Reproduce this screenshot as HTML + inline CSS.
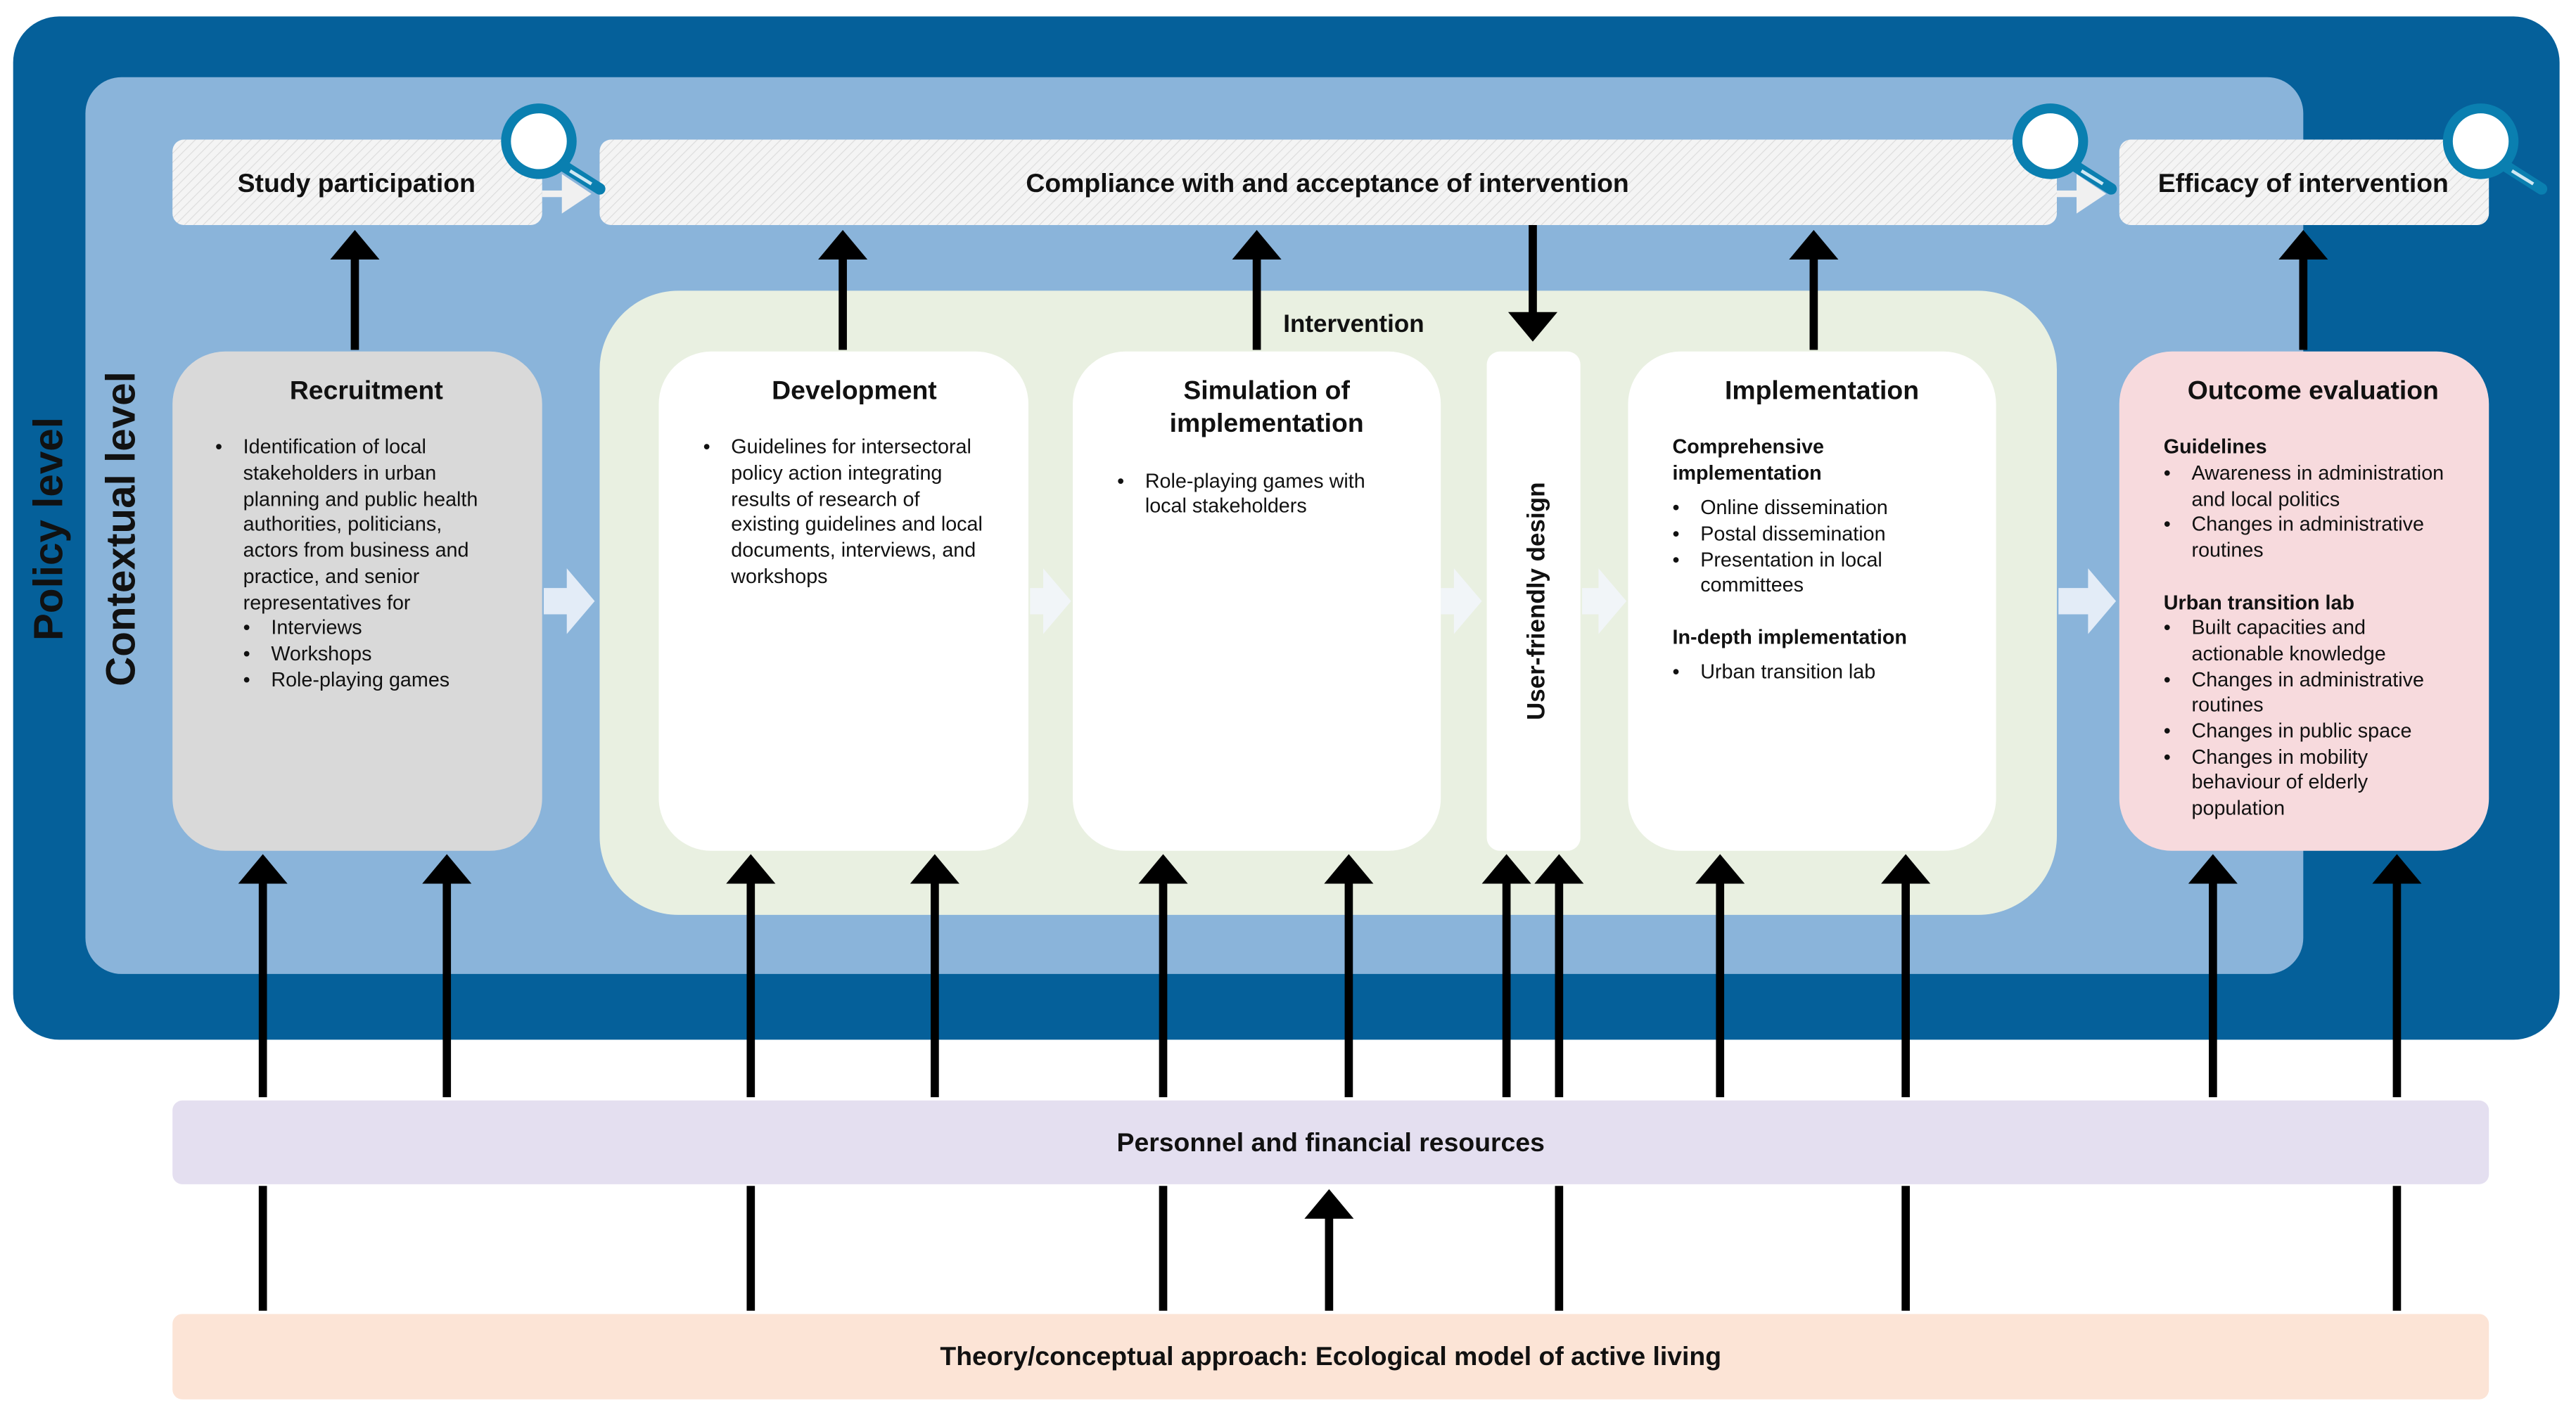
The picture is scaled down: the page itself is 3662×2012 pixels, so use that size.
<!DOCTYPE html>
<html><head><meta charset="utf-8"><style>
html,body{margin:0;padding:0;background:#fff;}
svg{display:block;}
text{font-family:"Liberation Sans",Arial,sans-serif;fill:#111;}
.t{font-weight:bold;font-size:16px;text-anchor:middle;}
.b{font-size:12.3px;}
.h{font-size:12.3px;font-weight:bold;}
</style></head><body>
<svg width="3662" height="2012" viewBox="0 0 1568 861.5" xmlns="http://www.w3.org/2000/svg">
<defs>
<pattern id="hat" width="4" height="4" patternUnits="userSpaceOnUse" patternTransform="rotate(45)">
<rect width="4" height="4" fill="#f4f4f4"/><line x1="0" y1="0" x2="0" y2="4" stroke="#dcdcdc" stroke-width="1"/>
</pattern>
<marker id="ah" viewBox="0 0 10 10" refX="9" refY="5" markerWidth="5" markerHeight="5" orient="auto-start-reverse" markerUnits="strokeWidth">
<path d="M0,0 L10,5 L0,10z" fill="#000"/></marker>
</defs>
<rect width="1568" height="861.5" fill="#fff"/>
<rect x="8" y="10" width="1550" height="623" rx="28" fill="#05609a"/>
<rect x="52" y="47" width="1350" height="546" rx="22" fill="#8ab4da"/>
<text class="t" transform="translate(38,322) rotate(-90)" style="font-size:25px">Policy level</text>
<text class="t" transform="translate(82,322) rotate(-90)" style="font-size:25px">Contextual level</text>

<!-- top boxes -->
<rect x="105" y="85" width="225" height="52" rx="7" fill="url(#hat)"/>
<rect x="365" y="85" width="887" height="52" rx="7" fill="url(#hat)"/>
<rect x="1290" y="85" width="225" height="52" rx="7" fill="url(#hat)"/>
<text class="t" x="217" y="117">Study participation</text>
<text class="t" x="808" y="117">Compliance with and acceptance of intervention</text>
<text class="t" x="1402" y="117">Efficacy of intervention</text>
<path d="M330,116 h12 v-10 l18,12 l-18,12 v-10 h-12z" fill="#f0f0f0"/>
<path d="M1252,116 h12 v-10 l18,12 l-18,12 v-10 h-12z" fill="#f0f0f0"/>
<!-- magnifiers -->
<g stroke="#0a7fb0" fill="#fff">
<circle cx="328" cy="86" r="20" stroke-width="6"/><line x1="343" y1="101" x2="365" y2="115" stroke-width="7" stroke-linecap="round"/>
<circle cx="1248" cy="86" r="20" stroke-width="6"/><line x1="1263" y1="101" x2="1285" y2="115" stroke-width="7" stroke-linecap="round"/>
<circle cx="1510" cy="86" r="20" stroke-width="6"/><line x1="1525" y1="101" x2="1547" y2="115" stroke-width="7" stroke-linecap="round"/>
</g>
<g stroke="#cfe8f3" stroke-width="2"><line x1="347" y1="104" x2="360" y2="112"/><line x1="1267" y1="104" x2="1280" y2="112"/><line x1="1529" y1="104" x2="1542" y2="112"/></g>

<!-- intervention -->
<rect x="365" y="177" width="887" height="380" rx="48" fill="#e9f0e1"/>
<text class="t" x="824" y="202" style="font-size:15px">Intervention</text>

<!-- light arrows -->
<g fill="#f2f6fb" opacity="0.85">
<path d="M331,358 h14 v-12 l17,20 l-17,20 v-12 h-14z"/>
<path d="M627,358 h8 v-12 l17,20 l-17,20 v-12 h-8z"/>
<path d="M877,358 h8 v-12 l17,20 l-17,20 v-12 h-8z"/>
<path d="M963,358 h10 v-12 l17,20 l-17,20 v-12 h-10z"/>
<path d="M1253,358 h18 v-12 l17,20 l-17,20 v-12 h-18z"/>
</g>

<rect x="105" y="214" width="225" height="304" rx="32" fill="#d9d9d9"/>
<rect x="401" y="214" width="225" height="304" rx="32" fill="#fff"/>
<rect x="653" y="214" width="224" height="304" rx="32" fill="#fff"/>
<rect x="905" y="214" width="57" height="304" rx="8" fill="#fff"/>
<rect x="991" y="214" width="224" height="304" rx="32" fill="#fff"/>
<rect x="1290" y="214" width="225" height="304" rx="32" fill="#f7dadd"/>

<text class="t" x="223" y="243">Recruitment</text>
<text class="b"><tspan x="131" y="276">•</tspan><tspan x="148" y="276">Identification of local</tspan><tspan x="148" y="292">stakeholders in urban</tspan><tspan x="148" y="308">planning and public health</tspan><tspan x="148" y="323">authorities, politicians,</tspan><tspan x="148" y="339">actors from business and</tspan><tspan x="148" y="355">practice, and senior</tspan><tspan x="148" y="371">representatives for</tspan>
<tspan x="148" y="386">•</tspan><tspan x="165" y="386">Interviews</tspan><tspan x="148" y="402">•</tspan><tspan x="165" y="402">Workshops</tspan><tspan x="148" y="418">•</tspan><tspan x="165" y="418">Role-playing games</tspan></text>

<text class="t" x="520" y="243">Development</text>
<text class="b"><tspan x="428" y="276">•</tspan><tspan x="445" y="276">Guidelines for intersectoral</tspan><tspan x="445" y="292">policy action integrating</tspan><tspan x="445" y="308">results of research of</tspan><tspan x="445" y="323">existing guidelines and local</tspan><tspan x="445" y="339">documents, interviews, and</tspan><tspan x="445" y="355">workshops</tspan></text>

<text class="t" x="771" y="243">Simulation of</text>
<text class="t" x="771" y="263">implementation</text>
<text class="b"><tspan x="680" y="297">•</tspan><tspan x="697" y="297">Role-playing games with</tspan><tspan x="697" y="312">local stakeholders</tspan></text>

<text class="t" transform="translate(940,366) rotate(-90)" style="font-size:15px">User-friendly design</text>

<text class="t" x="1109" y="243">Implementation</text>
<text class="h"><tspan x="1018" y="276">Comprehensive</tspan><tspan x="1018" y="292">implementation</tspan></text>
<text class="b"><tspan x="1018" y="313">•</tspan><tspan x="1035" y="313">Online dissemination</tspan><tspan x="1018" y="329">•</tspan><tspan x="1035" y="329">Postal dissemination</tspan><tspan x="1018" y="345">•</tspan><tspan x="1035" y="345">Presentation in local</tspan><tspan x="1035" y="360">committees</tspan></text>
<text class="h" x="1018" y="392">In-depth implementation</text>
<text class="b"><tspan x="1018" y="413">•</tspan><tspan x="1035" y="413">Urban transition lab</tspan></text>

<text class="t" x="1408" y="243">Outcome evaluation</text>
<text class="h" x="1317" y="276">Guidelines</text>
<text class="b"><tspan x="1317" y="292">•</tspan><tspan x="1334" y="292">Awareness in administration</tspan><tspan x="1334" y="308">and local politics</tspan><tspan x="1317" y="323">•</tspan><tspan x="1334" y="323">Changes in administrative</tspan><tspan x="1334" y="339">routines</tspan></text>
<text class="h" x="1317" y="371">Urban transition lab</text>
<text class="b"><tspan x="1317" y="386">•</tspan><tspan x="1334" y="386">Built capacities and</tspan><tspan x="1334" y="402">actionable knowledge</tspan><tspan x="1317" y="418">•</tspan><tspan x="1334" y="418">Changes in administrative</tspan><tspan x="1334" y="433">routines</tspan><tspan x="1317" y="449">•</tspan><tspan x="1334" y="449">Changes in public space</tspan><tspan x="1317" y="465">•</tspan><tspan x="1334" y="465">Changes in mobility</tspan><tspan x="1334" y="480">behaviour of elderly</tspan><tspan x="1334" y="496">population</tspan></text>

<!-- bottom bars -->
<rect x="105" y="670" width="1410" height="51" rx="6" fill="#e4dff0"/>
<text class="t" x="810" y="701">Personnel and financial resources</text>
<rect x="105" y="800" width="1410" height="52" rx="6" fill="#fce4d6"/>
<text class="t" x="810" y="831">Theory/conceptual approach: Ecological model of active living</text>

<!-- arrows -->
<g stroke="#000" stroke-width="5" fill="#000">
<line x1="160" y1="668" x2="160" y2="536"/><line x1="272" y1="668" x2="272" y2="536"/>
<line x1="457" y1="668" x2="457" y2="536"/><line x1="569" y1="668" x2="569" y2="536"/>
<line x1="708" y1="668" x2="708" y2="536"/><line x1="821" y1="668" x2="821" y2="536"/>
<line x1="917" y1="668" x2="917" y2="536"/><line x1="949" y1="668" x2="949" y2="536"/>
<line x1="1047" y1="668" x2="1047" y2="536"/><line x1="1160" y1="668" x2="1160" y2="536"/>
<line x1="1347" y1="668" x2="1347" y2="536"/><line x1="1459" y1="668" x2="1459" y2="536"/>
<line x1="160" y1="798" x2="160" y2="722"/><line x1="457" y1="798" x2="457" y2="722"/>
<line x1="708" y1="798" x2="708" y2="722"/><line x1="949" y1="798" x2="949" y2="722"/>
<line x1="1160" y1="798" x2="1160" y2="722"/><line x1="1459" y1="798" x2="1459" y2="722"/>
<line x1="809" y1="798" x2="809" y2="740"/>
<line x1="216" y1="213" x2="216" y2="156"/><line x1="513" y1="213" x2="513" y2="156"/>
<line x1="765" y1="213" x2="765" y2="156"/><line x1="1104" y1="213" x2="1104" y2="156"/>
<line x1="1402" y1="213" x2="1402" y2="156"/><line x1="933" y1="137" x2="933" y2="192"/>
</g>
<g fill="#000">
<path d="M145,538 l15,-18 l15,18z"/><path d="M257,538 l15,-18 l15,18z"/>
<path d="M442,538 l15,-18 l15,18z"/><path d="M554,538 l15,-18 l15,18z"/>
<path d="M693,538 l15,-18 l15,18z"/><path d="M806,538 l15,-18 l15,18z"/>
<path d="M902,538 l15,-18 l15,18z"/><path d="M934,538 l15,-18 l15,18z"/>
<path d="M1032,538 l15,-18 l15,18z"/><path d="M1145,538 l15,-18 l15,18z"/>
<path d="M1332,538 l15,-18 l15,18z"/><path d="M1444,538 l15,-18 l15,18z"/>
<path d="M794,742 l15,-18 l15,18z"/>
<path d="M201,158 l15,-18 l15,18z"/><path d="M498,158 l15,-18 l15,18z"/>
<path d="M750,158 l15,-18 l15,18z"/><path d="M1089,158 l15,-18 l15,18z"/>
<path d="M1387,158 l15,-18 l15,18z"/><path d="M918,190 l15,18 l15,-18z"/>
</g>
</svg>
</body></html>
